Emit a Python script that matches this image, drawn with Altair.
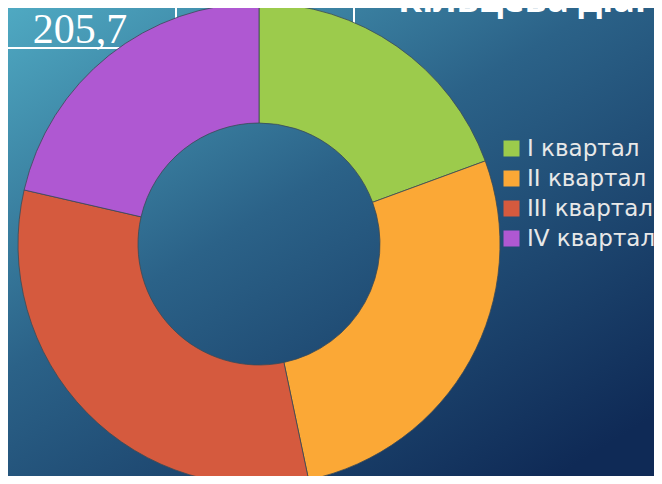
import altair as alt
import pandas as pd

# ---- data ----
quarters = ["I квартал", "II квартал", "III квартал", "IV квартал"]
shares = [19.4, 27.3, 31.9, 21.4]
colors = ["#9CCB4C", "#FBA836", "#D55A3E", "#AF58D2"]
table_value = "205,7"
title_text = "Кільцева діаграма"

W, H = 646, 468
CX, CY = 251, 236

df = pd.DataFrame({"quarter": quarters, "share": shares, "idx": list(range(len(quarters)))})
one = pd.DataFrame({"a": [0]})

bg = alt.Chart(one).mark_rect(
    fill=alt.Gradient(
        gradient="linear",
        stops=[
            alt.GradientStop(color="#4FA9C2", offset=0),
            alt.GradientStop(color="#2B6288", offset=0.45),
            alt.GradientStop(color="#0F2A56", offset=1),
        ],
        x1=0, y1=0, x2=0.85, y2=1,
    )
).encode(x=alt.value(0), x2=alt.value(W), y=alt.value(0), y2=alt.value(H))

rule_style = dict(color="white", strokeWidth=2)
v1 = alt.Chart(one).mark_rule(**rule_style).encode(x=alt.value(168), y=alt.value(0), y2=alt.value(12))
v2 = alt.Chart(one).mark_rule(**rule_style).encode(x=alt.value(346), y=alt.value(0), y2=alt.value(30))
h1 = alt.Chart(one).mark_rule(**rule_style).encode(x=alt.value(0), x2=alt.value(140), y=alt.value(40))

cell_text = alt.Chart(one).mark_text(
    text=table_value, font="Liberation Serif", fontSize=42, color="white",
    align="center", baseline="alphabetic"
).encode(x=alt.value(72), y=alt.value(35))

title = alt.Chart(one).mark_text(
    text=title_text, font="Open Sans", fontSize=36, fontWeight="bold", color="white",
    align="left", baseline="alphabetic"
).encode(x=alt.value(390), y=alt.value(4))

donut = alt.Chart(df).mark_arc(
    innerRadius=121, outerRadius=241, stroke="#3b4a55", strokeWidth=0.8
).encode(
    theta=alt.Theta("share:Q", stack=True),
    color=alt.Color(
        "quarter:N",
        scale=alt.Scale(domain=quarters, range=colors),
        legend=alt.Legend(
            title=None, orient="none", legendX=492, legendY=129, padding=0,
            symbolType="square", symbolSize=256, symbolStrokeWidth=0,
            labelFont="DejaVu Sans", labelFontSize=23, labelColor="#E8E8E8",
            labelOffset=4, rowPadding=6, labelLimit=300,
        ),
    ),
    order=alt.Order("idx:Q"),
    x=alt.value(CX),
    y=alt.value(CY),
)

chart = alt.layer(bg, v1, v2, h1, cell_text, title, donut).properties(
    width=W, height=H, autosize=alt.AutoSizeParams(type="none"), padding=0
).configure_view(stroke=None)

chart.save("out.html", embed_options={"renderer": "svg", "actions": False})
